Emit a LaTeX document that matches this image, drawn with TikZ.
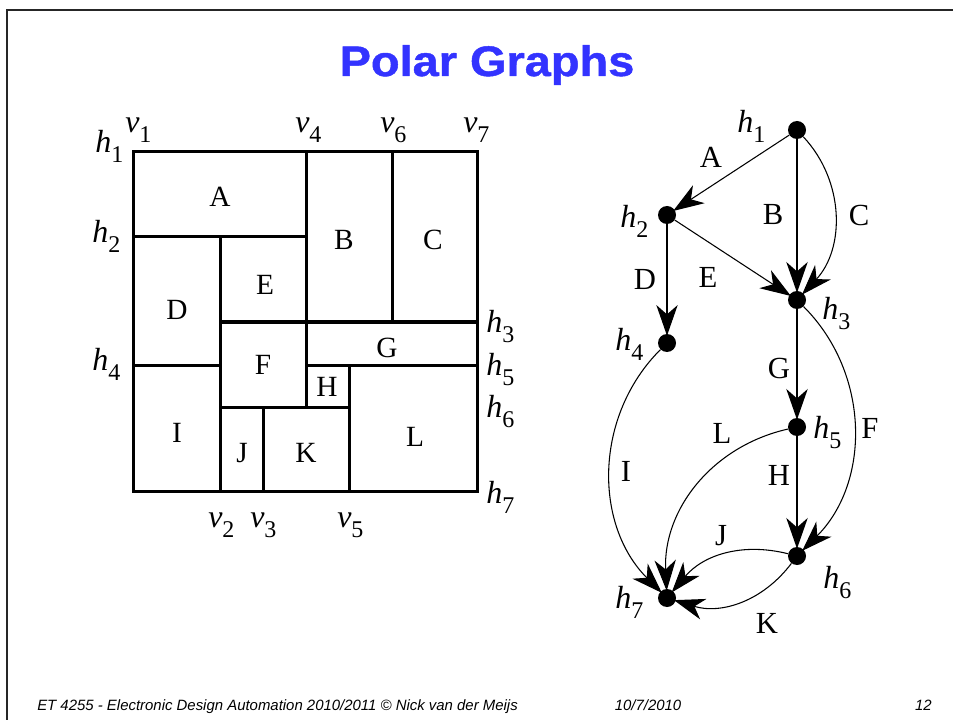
\documentclass[tikz,border=0pt]{standalone}
\usepackage{fontspec}
\setmainfont{Liberation Serif}
\newfontfamily\sansfont{Liberation Sans}
\usetikzlibrary{arrows.meta}
\definecolor{titleblue}{RGB}{51,51,255}
\newcommand{\hl}[2]{\textit{#1}\raisebox{-7.5pt}{\fontsize{18}{18}\selectfont #2}}
\begin{document}
\begin{tikzpicture}[x=0.75pt,y=-0.75pt,
  axlab/.style={anchor=base west,inner sep=0pt,font=\fontsize{24}{24}\selectfont},
  room/.style={inner sep=0pt,font=\fontsize{22}{22}\selectfont},
  elab/.style={inner sep=0pt,font=\fontsize{23}{23}\selectfont},
  wall/.style={line width=2.25pt,line cap=rect},
  dot/.style={circle,fill=black,inner sep=0pt,minimum size=13.5pt},
  thinedge/.style={line width=0.8pt,shorten >=-1.5pt,-{Stealth[length=23pt,width=16pt,inset=7pt]}},
  thickedge/.style={line width=1.6pt,shorten >=-1.5pt,-{Stealth[length=23pt,width=16pt,inset=7pt]}},
  foot/.style={inner sep=0pt,font=\sansfont\itshape\fontsize{11.2}{13}\selectfont}]
\useasboundingbox (0,0) rectangle (953,720);
% frame
\draw[line width=1.5pt,black!85] (7,720) -- (7,10) -- (953,10);
% title
\node[anchor=base,inner sep=0pt,text=titleblue] (title) at (487,76)
  {\scalebox{1.1}[1]{\sansfont\bfseries\fontsize{32}{32}\selectfont\addfontfeature{FakeBold=1}Polar Graphs}};
% floorplan
\draw[wall] (133,152) rectangle (477,491);
\draw[wall] (306,152) -- (306,407);
\draw[wall] (392,152) -- (392,322);
\draw[wall] (133,237) -- (306,237);
\draw[wall] (220,237) -- (220,491);
\draw[wall] (220,322) -- (477,322);
\draw[wall] (133,365) -- (220,365);
\draw[wall] (306,365) -- (477,365);
\draw[wall] (349,365) -- (349,491);
\draw[wall] (220,407) -- (349,407);
\draw[wall] (263,407) -- (263,491);
% room names
\node[room] (rA) at (220,197) {A};
\node[room] (rB) at (344,240) {B};
\node[room] (rC) at (433,240) {C};
\node[room] (rD) at (177,310) {D};
\node[room] (rE) at (265,285) {E};
\node[room] (rF) at (263,365) {F};
\node[room] (rG) at (387,348) {G};
\node[room] (rH) at (327,387) {H};
\node[room] (rI) at (177,433) {I};
\node[room] (rJ) at (242,453) {J};
\node[room] (rK) at (306,453) {K};
\node[room] (rL) at (415,437) {L};
% axis labels
\node[axlab] (ah1) at (95,153) {\hl{h}{1}};
\node[axlab] (ah2) at (92,243) {\hl{h}{2}};
\node[axlab] (ah4) at (92,370) {\hl{h}{4}};
\node[axlab] (ah3) at (486,332) {\hl{h}{3}};
\node[axlab] (ah5) at (486,375) {\hl{h}{5}};
\node[axlab] (ah6) at (486,417) {\hl{h}{6}};
\node[axlab] (ah7) at (486,503) {\hl{h}{7}};
\node[axlab] (av1) at (125,133) {\hl{v}{1}};
\node[axlab] (av4) at (295,133) {\hl{v}{4}};
\node[axlab] (av6) at (380,133) {\hl{v}{6}};
\node[axlab] (av7) at (463,133) {\hl{v}{7}};
\node[axlab] (av2) at (208,527) {\hl{v}{2}};
\node[axlab] (av3) at (250,527) {\hl{v}{3}};
\node[axlab] (av5) at (337,527) {\hl{v}{5}};
% graph vertices
\node[dot] (n1) at (797,130) {};
\node[dot] (n2) at (667,215) {};
\node[dot] (n3) at (797,300) {};
\node[dot] (n4) at (667,343) {};
\node[dot] (n5) at (797,427) {};
\node[dot] (n6) at (797,556) {};
\node[dot] (n7) at (667,598) {};
% vertex labels
\node[axlab] (gh1) at (737,133) {\hl{h}{1}};
\node[axlab] (gh2) at (620,228) {\hl{h}{2}};
\node[axlab] (gh3) at (822,320) {\hl{h}{3}};
\node[axlab] (gh4) at (615,350) {\hl{h}{4}};
\node[axlab] (gh5) at (813,438) {\hl{h}{5}};
\node[axlab] (gh6) at (823,588) {\hl{h}{6}};
\node[axlab] (gh7) at (615,608) {\hl{h}{7}};
% edges
\draw[thinedge] (n1) -- (n2);
\draw[thickedge] (n1) -- (n3);
\draw[thinedge] (n1) to[bend left=43] (n3);
\draw[thinedge] (n2) -- (n4);
\draw[thinedge] (n2) -- (n3);
\draw[thinedge] (n3) to[bend left=45] (n6);
\draw[thickedge] (n3) -- (n5);
\draw[thickedge] (n5) -- (n6);
\draw[thinedge] (n4) to[bend right=45] (n7);
\draw[thinedge] (n5) to[bend right=40] (n7);
\draw[thinedge] (n6) to[bend right=32] (n7);
\draw[thinedge] (n6) to[bend left=35] (n7);
% edge labels
\node[elab] (eA) at (711,157) {A};
\node[elab] (eB) at (773,215) {B};
\node[elab] (eC) at (859,215) {C};
\node[elab] (eD) at (645,279) {D};
\node[elab] (eE) at (708,277) {E};
\node[elab] (eG) at (779,368) {G};
\node[elab] (eF) at (870,428) {F};
\node[elab] (eL) at (722,433) {L};
\node[elab] (eI) at (626,471) {I};
\node[elab] (eH) at (779,475) {H};
\node[elab] (eJ) at (721,536) {J};
\node[elab] (eK) at (767,623) {K};
% footer
\node[foot,anchor=base west] (f1) at (37,710) {ET 4255 - Electronic Design Automation 2010/2011 © Nick van der Meijs};
\node[foot,anchor=base] (f2) at (648,710) {10/7/2010};
\node[foot,anchor=base east] (f3) at (932,710) {12};
\end{tikzpicture}
\end{document}
